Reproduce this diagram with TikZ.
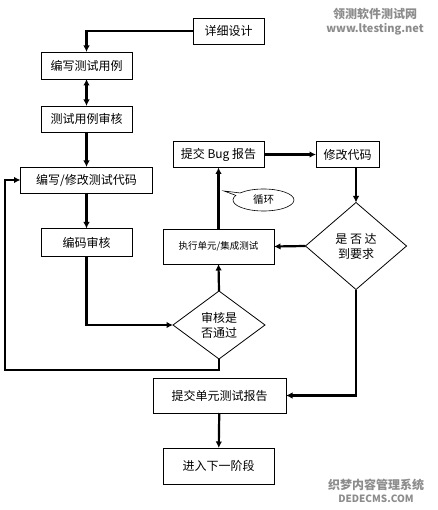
\documentclass[tikz,border=0pt]{standalone}
\usepackage{fontspec}
\setmainfont{Noto Sans CJK SC}
\usetikzlibrary{shapes.geometric,shapes.callouts,arrows.meta}

\begin{document}
\begin{tikzpicture}[
  x=1pt,y=-1pt,
  box/.style={draw,line width=0.8pt,minimum height=26pt,inner sep=0pt,outer sep=0pt,align=center,font=\fontsize{12}{15}\selectfont},
  dec/.style={box,diamond,minimum height=0pt},
  arr/.style={-{Latex[length=6.5pt,width=6.5pt]},line width=2.2pt},
  wmark/.style={font=\bfseries\fontsize{12}{13}\selectfont,text=black!45,inner sep=0pt}
]
\useasboundingbox (0,0) rectangle (437,510);
% left column
\node[box,minimum width=71pt] (xxsj) at (228.5,31) {详细设计};
\node[box,minimum width=91pt,minimum height=27pt] (bxyl) at (86.5,65.5) {编写测试用例};
\node[box,minimum width=91pt] (ylsh) at (86.5,119) {测试用例审核};
\node[box,minimum width=132pt] (bxdm) at (86.5,180) {编写/修改测试代码};
\node[box,minimum width=91pt,minimum height=28pt] (bmsh) at (86.5,242.5) {编码审核};
\node[dec,minimum width=92pt,minimum height=68pt] (shtg) at (219,325) {审核是\\否通过};
% right loop
\node[box,minimum width=111pt,minimum height=35pt,font=\fontsize{9.5}{11}\selectfont] (zxcs) at (218.5,246.5) {执行单元/集成测试};
\node[box,minimum width=91pt] (tjbug) at (218.5,154.5) {提交 Bug 报告};
\node[box,minimum width=63pt] (xgdm) at (347.5,154.5) {修改代码};
\node[dec,minimum width=101pt,minimum height=87pt] (ddyq) at (356,246) {是 否 达\\到要求};
\node[draw,ellipse callout,line width=0.6pt,minimum width=61pt,minimum height=22pt,inner sep=0pt,
  callout absolute pointer={(224,191)},font=\fontsize{10.5}{12}\selectfont] (xh) at (263.5,200) {循环};
% bottom
\node[box,minimum width=133pt,minimum height=35pt] (tjbg) at (219.5,395.5) {提交单元测试报告};
\node[box,minimum width=111pt,minimum height=36pt] (jrxy) at (218.5,466) {进入下一阶段};
% watermarks
\node[wmark] (wm1) at (375,14) {领测软件测试网};
\node[wmark,font=\bfseries\fontsize{11}{12}\selectfont] (wm2) at (375,29) {www.ltesting.net};
\node[wmark] (wm3) at (376,485) {织梦内容管理系统};
\node[wmark,font=\bfseries\fontsize{10}{11}\selectfont] (wm4) at (376,499) {DEDECMS.COM};

\draw[arr] (xxsj.west) -| (bxyl.north);
\draw[arr,{Latex[length=6.5pt,width=6.5pt]}-{Latex[length=6.5pt,width=6.5pt]}] (bxyl) -- (ylsh);
\draw[arr] (ylsh) -- (bxdm);
\draw[arr] (bxdm) -- (bmsh);
\draw[arr] (bmsh.south) |- (shtg.west);
\draw[arr] (shtg.north) -- (zxcs.south);
\draw[arr] (shtg.south) -- ++(0,11) -| (5,180) -- (bxdm.west);
\draw[arr] (zxcs) -- (tjbug);
\draw[arr] (tjbug) -- (xgdm);
\draw[arr] (xgdm.south -| ddyq.north) -- (ddyq.north);
\draw[arr] (ddyq.west) -- (zxcs.east);
\draw[arr] (ddyq.south) |- (tjbg.east);
\draw[arr] (tjbg) -- (jrxy);
\end{tikzpicture}
\end{document}
